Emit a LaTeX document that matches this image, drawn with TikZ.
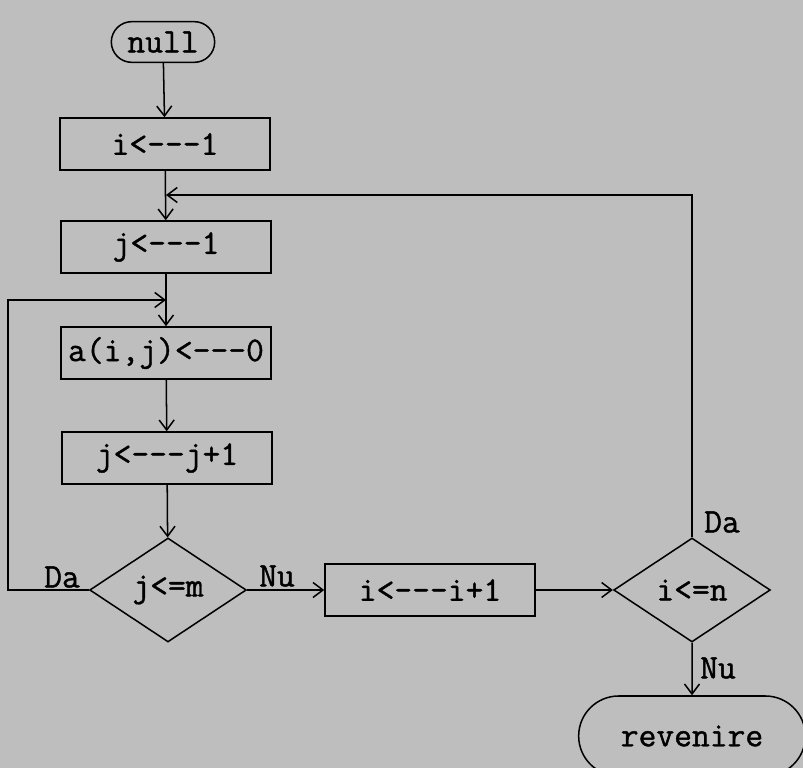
\documentclass[tikz,border=0pt]{standalone}
\usepackage{fontspec}
\usepackage{xcolor}
\usepackage{tikz}
\usetikzlibrary{shapes.geometric,shapes.misc,arrows.meta}
\newfontfamily\flowfont[BoldFont={Latin Modern Mono}, BoldFeatures={FakeBold=1.2}]{Latin Modern Mono}
\definecolor{paper}{RGB}{190,190,190}

\begin{document}
\begin{tikzpicture}[x=0.03cm, y=-0.03cm,
    every node/.style={font=\flowfont\bfseries\fontsize{29.5}{32}\selectfont},
    stmt/.style={draw, rectangle, minimum width=6.3cm, minimum height=1.56cm, inner sep=0pt},
    term/.style={draw, rounded rectangle, inner sep=0pt},
    test/.style={draw, diamond, minimum width=4.7cm, minimum height=3.12cm, inner sep=0pt},
    flow/.style={-{Straight Barb[length=3mm,width=4.5mm]}},
    line width=1.3pt]
    \useasboundingbox (0,0) rectangle (803,768);
    \fill[paper] (0,0) rectangle (803,768);

    % Start
    \node[term, minimum width=3.1cm, minimum height=1.22cm] (null) at (163,42) {null};

    % Outer loop init
    \node[stmt] (i1) at (165,144) {i<---1};

    % Inner loop init
    \node[stmt] (j1) at (166,247) {j<---1};

    % Loop body
    \node[stmt] (aij) at (166,353) {a(i,j)<---0};
    \node[stmt] (jinc) at (167,458) {j<---j+1};

    % Inner test
    \node[test] (jm) at (168,590) {j<=m};

    % Outer step
    \node[stmt] (iinc) at (430,590) {i<---i+1};

    % Outer test
    \node[test] (in) at (692,590) {i<=n};

    % End
    \node[term, minimum width=6.8cm, minimum height=2.4cm] (ret) at (692,736) {revenire};

    % Join points
    \coordinate (jn1) at (166,195);
    \coordinate (jn2) at (166,300);

    % Main flow
    \draw[flow] (null) -- (i1);
    \draw[flow] (i1) -- (j1);
    \draw[flow] (j1) -- (aij);
    \draw[flow] (aij) -- (jinc);
    \draw[flow] (jinc) -- (jm);
    \draw[flow] (jm) -- (iinc);
    \draw[flow] (iinc) -- (in);
    \draw[flow] (in) -- (ret);

    % Back edges
    \draw[flow] (jm.west) -- ++(-81,0) |- (jn2);
    \draw[flow] (in.north) |- (jn1);

    % Labels
    \node (da1) at (62,577) {Da};
    \node (nu1) at (277,576) {Nu};
    \node (da2) at (722,522) {Da};
    \node (nu2) at (718,668) {Nu};
\end{tikzpicture}
\end{document}
